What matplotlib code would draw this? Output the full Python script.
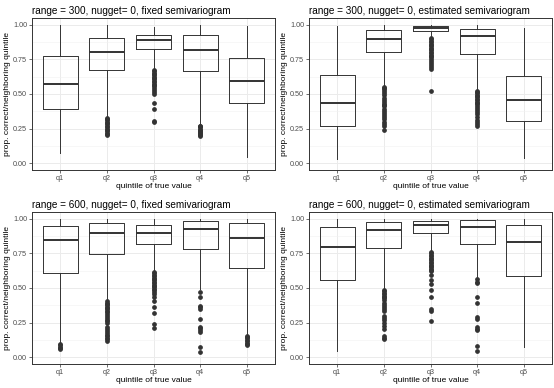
import matplotlib
matplotlib.use("Agg")
import matplotlib.pyplot as plt

plt.rcParams['font.family'] = ['Liberation Sans', 'DejaVu Sans']

quintiles = ['q1', 'q2', 'q3', 'q4', 'q5']
titles = ['range = 300, nugget= 0, fixed semivariogram',
          'range = 300, nugget= 0, estimated semivariogram',
          'range = 600, nugget= 0, fixed semivariogram',
          'range = 600, nugget= 0, estimated semivariogram']
yticks = [0.0, 0.25, 0.5, 0.75, 1.0]
ytick_labels = ['0.00', '0.25', '0.50', '0.75', '1.00']

# range 300, fixed
p1_lo = [0.07, 0.33, 0.68, 0.28, 0.046]
p1_q1 = [0.39, 0.676, 0.828, 0.666, 0.433]
p1_med = [0.571, 0.801, 0.888, 0.82, 0.593]
p1_q3 = [0.775, 0.908, 0.93, 0.927, 0.757]
p1_hi = [1.0, 1.0, 0.985, 1.0, 0.995]
p1_out = [[],
          [0.327, 0.32, 0.31, 0.30, 0.29, 0.28, 0.27, 0.26, 0.25, 0.24, 0.23, 0.22, 0.21, 0.20],
          [0.675, 0.665, 0.655, 0.645, 0.635, 0.625, 0.615, 0.605, 0.595, 0.585, 0.575, 0.565,
           0.555, 0.545, 0.53, 0.515, 0.50, 0.436, 0.392, 0.305, 0.298],
          [0.272, 0.265, 0.258, 0.25, 0.243, 0.235, 0.228, 0.22, 0.213, 0.205, 0.198],
          []]

# range 300, estimated
p2_lo = [0.03, 0.565, 0.91, 0.53, 0.036]
p2_q1 = [0.269, 0.804, 0.956, 0.792, 0.307]
p2_med = [0.433, 0.898, 0.978, 0.918, 0.46]
p2_q3 = [0.634, 0.966, 0.99, 0.969, 0.627]
p2_hi = [0.99, 1.0, 1.0, 1.0, 0.976]
p2_out = [[],
          [0.554, 0.545, 0.535, 0.525, 0.51, 0.49, 0.47, 0.455, 0.44, 0.43, 0.42, 0.41, 0.395,
           0.38, 0.365, 0.35, 0.335, 0.32, 0.30, 0.285, 0.27, 0.242],
          [0.905, 0.895, 0.885, 0.875, 0.865, 0.855, 0.845, 0.835, 0.825, 0.815, 0.805, 0.795,
           0.785, 0.775, 0.765, 0.755, 0.74, 0.725, 0.71, 0.695, 0.68, 0.52],
          [0.525, 0.515, 0.505, 0.495, 0.485, 0.475, 0.465, 0.455, 0.445, 0.435, 0.425, 0.415,
           0.40, 0.385, 0.37, 0.355, 0.335, 0.315, 0.30, 0.285, 0.271],
          []]

# range 600, fixed
p3_lo = [0.10, 0.41, 0.62, 0.49, 0.16]
p3_q1 = [0.61, 0.746, 0.821, 0.782, 0.642]
p3_med = [0.845, 0.896, 0.901, 0.925, 0.864]
p3_q3 = [0.952, 0.973, 0.959, 0.988, 0.969]
p3_hi = [1.0, 1.0, 1.0, 1.0, 1.0]
p3_out = [[0.094, 0.085, 0.075, 0.065, 0.055],
          [0.404, 0.395, 0.385, 0.375, 0.365, 0.355, 0.345, 0.335, 0.325, 0.315, 0.30, 0.285,
           0.27, 0.26, 0.25, 0.215, 0.20, 0.19, 0.175, 0.16, 0.15, 0.14, 0.13, 0.118],
          [0.615, 0.605, 0.595, 0.585, 0.575, 0.565, 0.555, 0.545, 0.535, 0.525, 0.515, 0.505,
           0.495, 0.485, 0.47, 0.455, 0.433, 0.404, 0.36, 0.317, 0.24, 0.21],
          [0.47, 0.438, 0.373, 0.36, 0.349, 0.278, 0.22, 0.21, 0.198, 0.179, 0.07, 0.038],
          [0.155, 0.145, 0.135, 0.125, 0.115, 0.105, 0.095, 0.085]]

# range 600, estimated
p4_lo = [0.046, 0.5, 0.77, 0.57, 0.07]
p4_q1 = [0.559, 0.787, 0.898, 0.821, 0.588]
p4_med = [0.799, 0.918, 0.956, 0.944, 0.833]
p4_q3 = [0.942, 0.981, 0.985, 0.993, 0.959]
p4_hi = [1.0, 1.0, 1.0, 1.0, 1.0]
p4_out = [[],
          [0.487, 0.475, 0.465, 0.455, 0.445, 0.435, 0.425, 0.41, 0.395, 0.38, 0.365, 0.35,
           0.335, 0.30, 0.28, 0.265, 0.245, 0.225, 0.20, 0.15, 0.14, 0.131],
          [0.76, 0.75, 0.74, 0.73, 0.72, 0.71, 0.70, 0.69, 0.68, 0.67, 0.66, 0.65, 0.64, 0.63,
           0.62, 0.591, 0.555, 0.53, 0.482, 0.433, 0.349, 0.337, 0.259],
          [0.567, 0.545, 0.535, 0.438, 0.389, 0.288, 0.278, 0.215, 0.205, 0.196, 0.082, 0.046],
          []]

panels = [(p1_lo, p1_q1, p1_med, p1_q3, p1_hi, p1_out),
          (p2_lo, p2_q1, p2_med, p2_q3, p2_hi, p2_out),
          (p3_lo, p3_q1, p3_med, p3_q3, p3_hi, p3_out),
          (p4_lo, p4_q1, p4_med, p4_q3, p4_hi, p4_out)]

fig = plt.figure(figsize=(5.54, 3.88), dpi=100)
fig.patch.set_facecolor('white')

# axes rectangles in figure pixels: left, top, right, bottom
rects = [(32, 18, 275, 170), (309, 18, 552, 170),
         (32, 212, 275, 364), (309, 212, 552, 364)]
W, H = 554, 388
dark = '#333333'

for k, (lo, q1, med, q3, hi, out) in enumerate(panels):
    l, t, r, b = rects[k]
    ax = fig.add_axes([l / W, 1 - b / H, (r - l) / W, (b - t) / H])
    stats = []
    for i in range(5):
        stats.append({'whislo': lo[i], 'q1': q1[i], 'med': med[i], 'q3': q3[i],
                      'whishi': hi[i], 'fliers': out[i]})
    ax.bxp(stats, positions=range(1, 6), widths=0.75, showcaps=False,
           boxprops=dict(color=dark, linewidth=0.7),
           whiskerprops=dict(color=dark, linewidth=0.7),
           medianprops=dict(color=dark, linewidth=1.4),
           flierprops=dict(marker='o', markerfacecolor=dark, markeredgecolor=dark,
                           markersize=2.4, linestyle='none'),
           zorder=3)
    ax.set_xlim(0.4, 5.6)
    ax.set_ylim(-0.05, 1.05)
    ax.set_xticks(range(1, 6))
    ax.set_xticklabels(quintiles)
    ax.set_yticks(yticks)
    ax.set_yticklabels(ytick_labels)
    ax.set_yticks([0.125, 0.375, 0.625, 0.875], minor=True)
    ax.grid(True, which='major', color='#EBEBEB', linewidth=0.7, zorder=0)
    ax.grid(True, which='minor', axis='y', color='#F2F2F2', linewidth=0.4, zorder=0)
    ax.set_axisbelow(True)
    ax.tick_params(axis='both', which='major', labelsize=5.2, labelcolor='#4D4D4D',
                   color='#333333', length=2, width=0.5, pad=1.5)
    ax.tick_params(axis='both', which='minor', length=0)
    for s in ax.spines.values():
        s.set_color('#333333')
        s.set_linewidth(0.7)
    ax.set_title(titles[k], fontsize=7.2, loc='left', pad=3, x=-0.0)
    ax.set_xlabel('quintile of true value', fontsize=6, labelpad=1)
    ax.set_ylabel('prop. correct/neighboring quintile', fontsize=6, labelpad=1.5)

fig.savefig('out.png', dpi=100)
